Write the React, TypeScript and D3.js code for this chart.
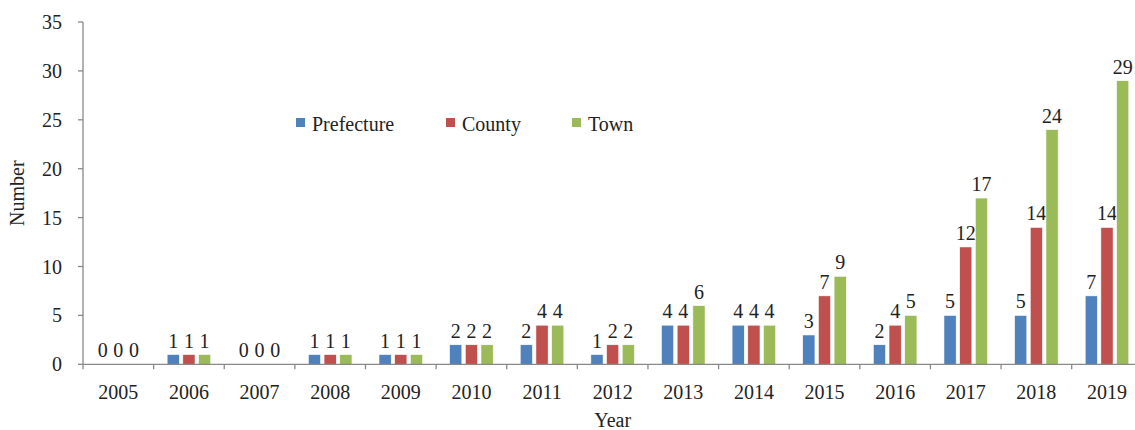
import React from "react";
import * as d3 from "d3";

const years = ["2005","2006","2007","2008","2009","2010","2011","2012","2013","2014","2015","2016","2017","2018","2019"];
const seriesNames = ["Prefecture", "County", "Town"];
const prefecture = [0,1,0,1,1,2,2,1,4,4,3,2,5,5,7];
const county = [0,1,0,1,1,2,4,2,4,4,7,4,12,14,14];
const town = [0,1,0,1,1,2,4,2,6,4,9,5,17,24,29];
const yTicks = [0,5,10,15,20,25,30,35];
const colors = ["#4F81BD", "#C0504D", "#9BBB59"];

const W = 1135, H = 430;
const left = 83, top = 22, bottom = 364.3;
const catW = 70.62;
const right = left + catW * years.length;
const font = "'Liberation Serif', 'Times New Roman', serif";
const axisColor = "#898989";

export default function App() {
  const values = [prefecture, county, town];
  const x0 = d3.scaleBand<string>().domain(years).range([left, right]).padding(0);
  const y = d3.scaleLinear().domain([0, 35]).range([bottom, top]);
  const x1 = d3.scaleBand<string>().domain(seriesNames).range([-21.8, 21.8]).paddingInner(0.22).paddingOuter(0);

  const legendItems = [
    { name: "Prefecture", sx: 296 },
    { name: "County", sx: 446 },
    { name: "Town", sx: 572 },
  ];

  return (
    <svg width={W} height={H} style={{ position: "absolute", left: 0, top: 0, background: "#fff" }} fontFamily={font}>
      {/* bars */}
      {years.map((yr, i) => {
        const cx = (x0(yr) as number) + x0.bandwidth() / 2;
        return (
          <g key={yr}>
            {seriesNames.map((s, j) => {
              const v = values[j][i];
              const bx = cx + (x1(s) as number);
              return (
                <g key={s}>
                  {v > 0 && (
                    <rect x={bx} y={y(v)} width={x1.bandwidth()} height={y(0) - y(v)} fill={colors[j]} stroke="#fff" strokeWidth={0.6} />
                  )}
                  <text x={bx + x1.bandwidth() / 2} y={y(v) - 7} textAnchor="middle" fontSize={20} fill="#222">{v}</text>
                </g>
              );
            })}
          </g>
        );
      })}
      {/* y axis */}
      <line x1={left} x2={left} y1={top} y2={bottom} stroke={axisColor} strokeWidth={1.3} />
      {yTicks.map((t) => (
        <g key={t}>
          <line x1={left - 5} x2={left} y1={y(t)} y2={y(t)} stroke={axisColor} strokeWidth={1.3} />
          <text x={62} y={y(t)} dy="0.35em" textAnchor="end" fontSize={20} fill="#222">{t}</text>
        </g>
      ))}
      {/* x axis */}
      <line x1={left} x2={right} y1={bottom} y2={bottom} stroke={axisColor} strokeWidth={1.3} />
      {years.map((yr) => (
        <line key={"t" + yr} x1={x0(yr) as number} x2={x0(yr) as number} y1={bottom} y2={bottom + 5} stroke={axisColor} strokeWidth={1.3} />
      ))}
      {years.map((yr) => (
        <text key={"l" + yr} x={(x0(yr) as number) + x0.bandwidth() / 2} y={399} textAnchor="middle" fontSize={20} fill="#222">{yr}</text>
      ))}
      {/* axis titles */}
      <text x={(left + right) / 2} y={427} textAnchor="middle" fontSize={20} fill="#222">Year</text>
      <text transform={`translate(24, ${(top + bottom) / 2}) rotate(-90)`} textAnchor="middle" fontSize={20} fill="#222">Number</text>
      {/* legend */}
      {legendItems.map((it, j) => (
        <g key={it.name}>
          <rect x={it.sx} y={118} width={9} height={9} fill={colors[j]} />
          <text x={it.sx + 16} y={131} fontSize={20} fill="#222">{it.name}</text>
        </g>
      ))}
    </svg>
  );
}
